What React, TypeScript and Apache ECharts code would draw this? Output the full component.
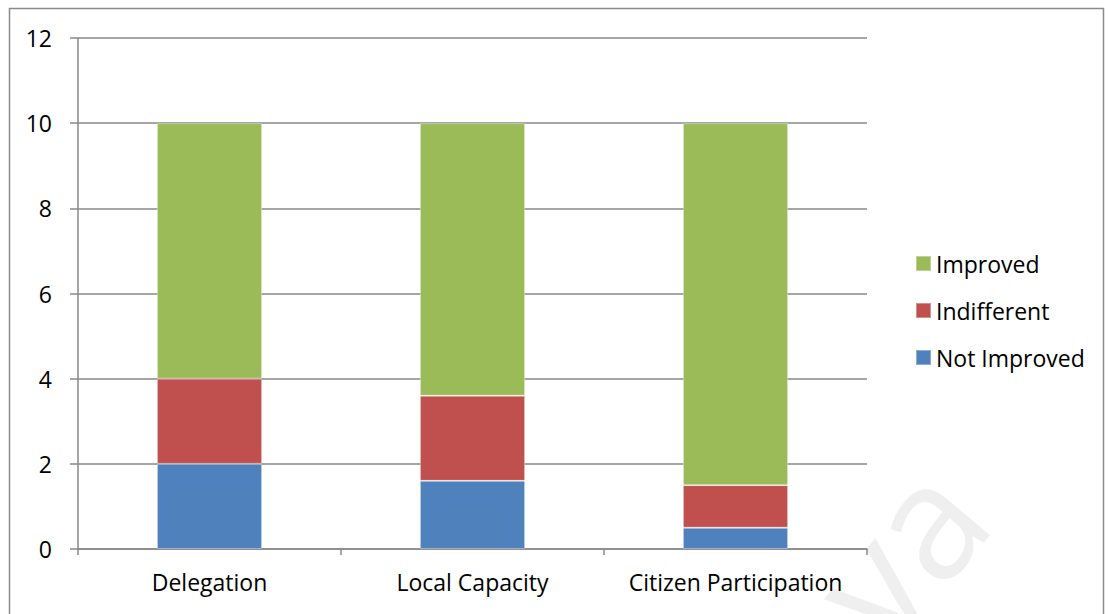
import React, { useEffect, useRef } from "react";
import * as echarts from "echarts";

const categories = ["Delegation", "Local Capacity", "Citizen Participation"];
const notImproved = [2, 1.6, 0.5];
const indifferent = [2, 2, 1];
const improved = [6, 6.4, 8.5];
const legendOrder = ["Improved", "Indifferent", "Not Improved"];

const FONT = "'Open Sans', sans-serif";

export default function App() {
  const ref = useRef<HTMLDivElement>(null);

  useEffect(() => {
    if (!ref.current) return;
    const chart = echarts.init(ref.current, undefined, { renderer: "svg" });
    const barStyle = (color: string) => ({
      color,
      borderColor: "rgba(255,255,255,0.35)",
      borderWidth: 1,
    });
    chart.setOption({
      animation: false,
      backgroundColor: "#ffffff",
      textStyle: { fontFamily: FONT },
      grid: { left: 78, right: 242, top: 38, bottom: 65 },
      legend: {
        orient: "vertical",
        left: 910,
        top: 247,
        data: legendOrder,
        icon: "rect",
        itemWidth: 15,
        itemHeight: 15,
        itemGap: 24,
        textStyle: { fontSize: 23, color: "#000", fontFamily: FONT },
      },
      xAxis: {
        type: "category",
        data: categories,
        axisLine: { lineStyle: { color: "#888", width: 1.5 } },
        axisTick: { show: true, length: 6, lineStyle: { color: "#888", width: 1.5 } },
        axisLabel: {
          interval: 0,
          fontSize: 23,
          color: "#000",
          margin: 21,
          fontFamily: FONT,
        },
      },
      yAxis: {
        type: "value",
        min: 0,
        max: 12,
        interval: 2,
        axisLine: { show: true, lineStyle: { color: "#888", width: 1.5 } },
        axisTick: { show: true, length: 8, lineStyle: { color: "#888", width: 1.5 } },
        splitLine: { lineStyle: { color: "#888", width: 1.5 } },
        axisLabel: { fontSize: 23, color: "#000", margin: 26, fontFamily: FONT },
      },
      series: [
        {
          name: "Not Improved",
          type: "bar",
          stack: "total",
          barWidth: "40%",
          data: notImproved,
          itemStyle: barStyle("#4F81BD"),
        },
        {
          name: "Indifferent",
          type: "bar",
          stack: "total",
          data: indifferent,
          itemStyle: barStyle("#C0504D"),
        },
        {
          name: "Improved",
          type: "bar",
          stack: "total",
          data: improved,
          itemStyle: barStyle("#9BBB59"),
        },
      ],
      graphic: [
        {
          type: "rect",
          silent: true,
          shape: { x: 9.5, y: 8.5, width: 1094, height: 620 },
          style: { fill: "none", stroke: "#8a8a8a", lineWidth: 1.5 },
        },
        {
          type: "text",
          silent: true,
          x: 1012,
          y: 537,
          rotation: 0.87,
          z: -1,
          style: {
            text: "ava",
            align: "right",
            verticalAlign: "bottom",
            fontSize: 160,
            fontFamily: "'Open Sans', sans-serif",
            fill: "#efefef",
          },
        },
      ],
    });
    return () => chart.dispose();
  }, []);

  return (
    <div
      ref={ref}
      style={{ position: "fixed", left: 0, top: 0, width: 1109, height: 614 }}
    />
  );
}
